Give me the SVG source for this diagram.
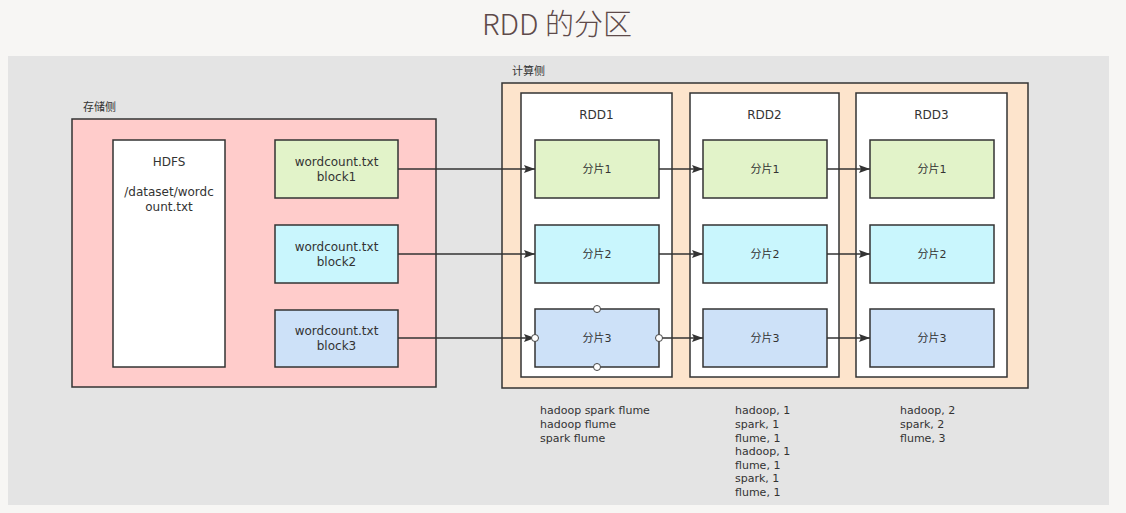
<svg xmlns="http://www.w3.org/2000/svg" width="1126" height="513" viewBox="0 0 1126 513">
<style>
text{font-family:"DejaVu Sans","Noto Sans CJK SC",sans-serif;font-size:11px;fill:#333}
.c{text-anchor:middle}
.l{font-size:12px}
.box{stroke:#333;stroke-width:1.5}
.g{fill:#e2f3c9}.cy{fill:#c9f6fd}.b{fill:#cde1f8}
.ln{stroke:#333;stroke-width:1.5;fill:none}
.h{fill:#fff;stroke:#444;stroke-width:1}
</style>
<defs>
<marker id="ar" markerWidth="11" markerHeight="8" refX="11" refY="4" orient="auto" markerUnits="userSpaceOnUse">
<path d="M0,0 L11,4 L0,8 L2,4 Z" fill="#333"/>
</marker>
</defs>
<rect width="1126" height="513" fill="#f7f6f4"/>
<text x="557" y="35" class="c" style="font-family:'Noto Sans CJK SC',sans-serif;font-size:29px;font-weight:300;fill:#5e4a4a">RDD 的分区</text>
<rect x="8" y="56" width="1101" height="449" fill="#e4e4e4"/>

<g id="storage">
<text x="83" y="111">存储侧</text>
<rect x="72" y="119" width="364" height="268" fill="#ffcccb" class="box"/>
</g>
<g id="hdfs">
<rect x="113" y="140" width="112" height="227" fill="#fff" class="box"/>
<text x="169" y="166" class="c l">HDFS</text>
<text x="169" y="196" class="c l">/dataset/wordc</text>
<text x="169" y="211" class="c l">ount.txt</text>
</g>
<g id="block1"><rect x="275" y="140" width="123" height="58" class="box g"/><text x="336.5" y="166" class="c l">wordcount.txt</text><text x="336.5" y="181" class="c l">block1</text></g>
<g id="block2"><rect x="275" y="225" width="123" height="58" class="box cy"/><text x="336.5" y="251" class="c l">wordcount.txt</text><text x="336.5" y="266" class="c l">block2</text></g>
<g id="block3"><rect x="275" y="310" width="123" height="57" class="box b"/><text x="336.5" y="335" class="c l">wordcount.txt</text><text x="336.5" y="350" class="c l">block3</text></g>

<g id="compute">
<text x="512" y="75">计算侧</text>
<rect x="502" y="83" width="526" height="305" fill="#fde4cc" class="box"/>
</g>
<g id="rdd1"><rect x="521" y="93" width="151" height="284" fill="#fff" class="box"/><text x="596.5" y="119" class="c l">RDD1</text></g>
<g id="rdd2"><rect x="690" y="93" width="149" height="284" fill="#fff" class="box"/><text x="764.5" y="119" class="c l">RDD2</text></g>
<g id="rdd3"><rect x="856" y="93" width="151" height="284" fill="#fff" class="box"/><text x="931.5" y="119" class="c l">RDD3</text></g>

<g id="r1p1"><rect x="535" y="140" width="124" height="58" class="box g"/><text x="597" y="173" class="c">分片1</text></g>
<g id="r1p2"><rect x="535" y="225" width="124" height="58" class="box cy"/><text x="597" y="258" class="c">分片2</text></g>
<g id="r1p3"><rect x="535" y="309" width="124" height="58" class="box b"/><text x="597" y="342" class="c">分片3</text></g>
<g id="r2p1"><rect x="703" y="140" width="124" height="58" class="box g"/><text x="765" y="173" class="c">分片1</text></g>
<g id="r2p2"><rect x="703" y="225" width="124" height="58" class="box cy"/><text x="765" y="258" class="c">分片2</text></g>
<g id="r2p3"><rect x="703" y="309" width="124" height="58" class="box b"/><text x="765" y="342" class="c">分片3</text></g>
<g id="r3p1"><rect x="870" y="140" width="124" height="58" class="box g"/><text x="932" y="173" class="c">分片1</text></g>
<g id="r3p2"><rect x="870" y="225" width="124" height="58" class="box cy"/><text x="932" y="258" class="c">分片2</text></g>
<g id="r3p3"><rect x="870" y="309" width="124" height="58" class="box b"/><text x="932" y="342" class="c">分片3</text></g>

<g id="connectors">
<line x1="398" y1="169" x2="535" y2="169" class="ln" marker-end="url(#ar)"/>
<line x1="398" y1="254" x2="535" y2="254" class="ln" marker-end="url(#ar)"/>
<line x1="398" y1="338" x2="535" y2="338" class="ln" marker-end="url(#ar)"/>
<line x1="659" y1="169" x2="703" y2="169" class="ln" marker-end="url(#ar)"/>
<line x1="659" y1="254" x2="703" y2="254" class="ln" marker-end="url(#ar)"/>
<line x1="659" y1="338" x2="703" y2="338" class="ln" marker-end="url(#ar)"/>
<line x1="827" y1="169" x2="870" y2="169" class="ln" marker-end="url(#ar)"/>
<line x1="827" y1="254" x2="870" y2="254" class="ln" marker-end="url(#ar)"/>
<line x1="827" y1="338" x2="870" y2="338" class="ln" marker-end="url(#ar)"/>
</g>
<g id="handles">
<circle cx="535" cy="338" r="3.5" class="h"/>
<circle cx="659" cy="338" r="3.5" class="h"/>
<circle cx="597" cy="309" r="3.5" class="h"/>
<circle cx="597" cy="367" r="3.5" class="h"/>
</g>

<g id="notes">
<text x="540" y="414">hadoop spark flume</text>
<text x="540" y="428">hadoop flume</text>
<text x="540" y="442">spark flume</text>
<text x="735" y="414">hadoop, 1</text>
<text x="735" y="428">spark, 1</text>
<text x="735" y="442">flume, 1</text>
<text x="735" y="455">hadoop, 1</text>
<text x="735" y="469">flume, 1</text>
<text x="735" y="482">spark, 1</text>
<text x="735" y="496">flume, 1</text>
<text x="900" y="414">hadoop, 2</text>
<text x="900" y="428">spark, 2</text>
<text x="900" y="442">flume, 3</text>
</g>
</svg>
